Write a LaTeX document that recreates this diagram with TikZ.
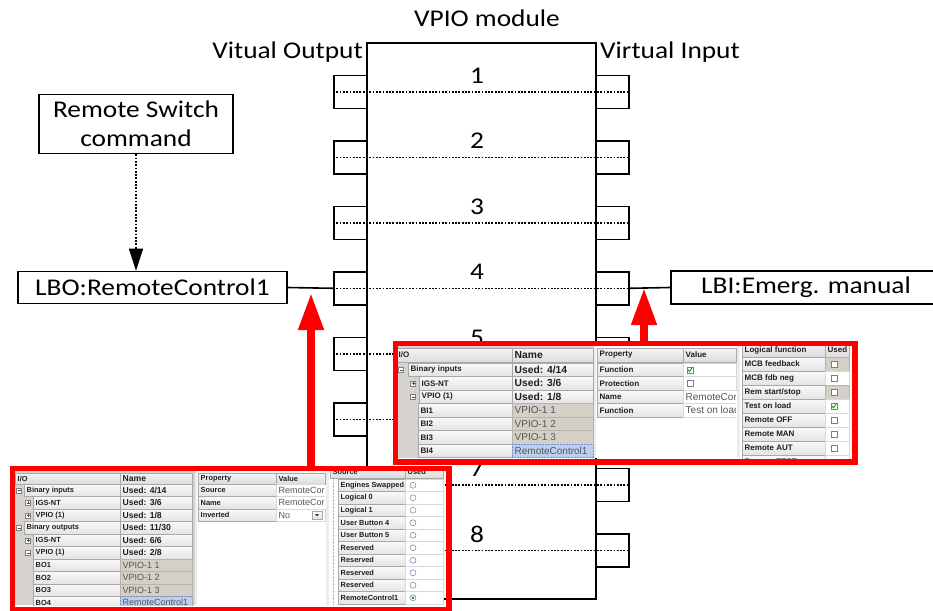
\documentclass[tikz,border=0pt]{standalone}
\usepackage{fontspec}
\usepackage{graphicx}
\setmainfont{Carlito}
\newfontfamily\ui{Liberation Sans}
\usetikzlibrary{arrows.meta}
\definecolor{panelg}{HTML}{D6D3CE}
\definecolor{cellg}{HTML}{D4D0C8}
\definecolor{celld}{HTML}{B8B4AC}
\definecolor{btnd}{HTML}{A8A8A8}
\definecolor{selc}{HTML}{BBD0F0}
\definecolor{seld}{HTML}{7B8FCF}
\definecolor{cbd}{HTML}{6F7F9F}
\definecolor{bgui}{HTML}{ECECEC}
\definecolor{txtg}{HTML}{555555}
\definecolor{txtd}{HTML}{1E1E1E}
\newcommand\wt[1]{\scalebox{1.14}[1]{#1}}
\newcommand\cl[8]{\path[#2] (#3,#4) rectangle (#5,#6); \node[#7] (#1) at ({#3+2.5},{(#4+#6)/2}) {#8};}
\newcommand\cbox[2]{\path[draw=cbd, fill=white, line width=0.5pt] ({#1-3},{#2-3}) rectangle ({#1+3},{#2+3});}
\newcommand\tick[2]{\draw[green!55!black, line width=0.8pt] ({#1-2},{#2}) -- ({#1-0.5},{#2+1.8}) -- ({#1+2.2},{#2-2});}
\newcommand\radio[2]{\path[draw=cbd, fill=white, line width=0.5pt] (#1,#2) circle[radius=3pt];}
\newcommand\radiosel[2]{\path[draw=cbd, fill=white, line width=0.5pt] (#1,#2) circle[radius=3pt]; \fill[green!55!black] (#1,#2) circle[radius=1.3pt];}
\newcommand\minico[2]{\path[draw=gray, fill=white, line width=0.4pt] ({#1-2.5},{#2-2.5}) rectangle ({#1+2.5},{#2+2.5}); \draw[black!70, line width=0.5pt] ({#1-1.5},#2) -- ({#1+1.5},#2);}
\newcommand\plusico[2]{\minico{#1}{#2}\draw[black!70, line width=0.5pt] (#1,{#2-1.5}) -- (#1,{#2+1.5});}
\begin{document}
\begin{tikzpicture}[x=1pt,y=-1pt,
  big/.style={font=\fontsize{24}{30}\selectfont, inner sep=0},
  bx/.style={draw, line width=1.6pt},
  port/.style={draw, line width=1.6pt, minimum width=33pt, minimum height=33pt, inner sep=0, anchor=north west},
  dots/.style={line width=1.4pt, dash pattern=on 1.8pt off 1.5pt},
  redframe/.style={draw=red, line width=5.5pt, inner sep=0, anchor=north west},
  redarrow/.style={draw=red, line width=7.5pt, -{Triangle[width=24pt,length=37pt]}},
  uhdr/.style={top color=white!96!black, bottom color=white!86!black, draw=btnd, line width=0.4pt},
  ubtn/.style={top color=white!98!black, bottom color=white!89!black, draw=btnd, line width=0.4pt},
  ugray/.style={fill=cellg, draw=celld, line width=0.4pt},
  uwhite/.style={fill=white, draw=white!85!black, line width=0.4pt},
  usel/.style={fill=selc, draw=seld, line width=0.5pt, densely dotted},
  tlab/.style={font=\ui\bfseries\fontsize{8}{9}\selectfont, text=txtd, inner sep=0, anchor=west},
  tusd/.style={font=\ui\bfseries\fontsize{10.3}{11}\selectfont, text=txtd, inner sep=0, anchor=west},
  tval/.style={font=\ui\fontsize{10}{11}\selectfont, text=txtg, inner sep=0, anchor=west},
  tlabs/.style={font=\ui\bfseries\fontsize{7.4}{8}\selectfont, text=txtd, inner sep=0, anchor=west},
  tusds/.style={font=\ui\bfseries\fontsize{8.6}{9}\selectfont, text=txtd, inner sep=0, anchor=west},
  tvals/.style={font=\ui\fontsize{9}{10}\selectfont, text=txtg, inner sep=0, anchor=west}]
\useasboundingbox (0,0) rectangle (933,610);
\fill[white] (0,0) rectangle (933,610);

% ---------------- main diagram ----------------
\node[big] (title) at (487,18) {\wt{VPIO module}};
\node[bx, anchor=north west, minimum width=229pt, minimum height=556pt, inner sep=0] (vpio) at (366,42) {};
\node[big, anchor=east] (vo) at (363,52) {\wt{Vitual Output}};
\node[big, anchor=west] (vi) at (600,52) {\wt{Virtual Input}};
\foreach \k in {1,...,8}{
  \pgfmathsetmacro\py{74.5+65.5*(\k-1)}
  \node[port] (pl\k) at (333,\py) {};
  \node[port] (pr\k) at (595,\py) {};
  \draw[dots] (pl\k.west) -- (pr\k.east);
  \node[big] (n\k) at (477,\py+1) {\wt{\k}};
}
\node[bx, big, minimum width=194pt, minimum height=59pt, align=center] (rs) at (136,124) {\wt{Remote Switch}\\[-1pt]\wt{command}};
\node[bx, big, minimum width=269pt, minimum height=32pt] (lbo) at (152.5,287.5) {\wt{LBO:RemoteControl1}};
\node[bx, big, minimum width=270pt, minimum height=33pt] (lbi) at (806,287.5) {\wt{LBI:Emerg. manual}};
\draw[line width=1.6pt] (lbo.east) -- (pl4.west);
\draw[line width=1.6pt] (pr4.east) -- (lbi.west);
\draw[dots, -{Triangle[width=14pt,length=22pt]}] (rs.south) -- (rs.south |- lbo.north);

% ---------------- upper screenshot ----------------
\begin{scope}
\clip (395,343) rectangle (850,458);
\fill[bgui] (395,343) rectangle (850,458);
\fill[panelg] (395,345) rectangle (594,458);
\fill[white] (596,345) rectangle (737,458);
\fill[white] (740,343) rectangle (850,458);
\cl{uh1}{uhdr}{396}{348}{512}{362}{tlab}{I/O}
\cl{uh2}{uhdr}{512}{348}{593}{362}{tusd}{Name}
\minico{401}{369.75}
\cl{ur0a}{ubtn}{408}{363}{512}{376.5}{tlab}{Binary inputs}
\cl{ur0b}{ubtn}{512}{363}{593}{376.5}{tusd}{Used: 4/14}
\plusico{413}{383.25}
\cl{ur1a}{ubtn}{419}{376.5}{512}{390}{tlab}{IGS-NT}
\cl{ur1b}{ubtn}{512}{376.5}{593}{390}{tusd}{Used: 3/6}
\minico{413}{396.75}
\cl{ur2a}{ubtn}{419}{390}{512}{403.5}{tlab}{VPIO (1)}
\cl{ur2b}{ubtn}{512}{390}{593}{403.5}{tusd}{Used: 1/8}
\cl{ur3a}{ubtn}{418}{403.5}{512}{417}{tlab}{BI1}
\cl{ur3b}{ugray}{512}{403.5}{593}{417}{tval}{VPIO-1 1}
\cl{ur4a}{ubtn}{418}{417}{512}{430.5}{tlab}{BI2}
\cl{ur4b}{ugray}{512}{417}{593}{430.5}{tval}{VPIO-1 2}
\cl{ur5a}{ubtn}{418}{430.5}{512}{444}{tlab}{BI3}
\cl{ur5b}{ugray}{512}{430.5}{593}{444}{tval}{VPIO-1 3}
\cl{ur6a}{ubtn}{418}{444}{512}{457.5}{tlab}{BI4}
\cl{ur6b}{usel}{512}{444}{593}{457.5}{tval}{RemoteControl1}
% property panel
\cl{um1}{uhdr}{597}{348}{683}{362}{tlab}{Property}
\cl{um2}{uhdr}{683}{348}{736}{362}{tlab}{Value}
\cl{um3}{ubtn}{597}{363}{683}{376.5}{tlab}{Function}
\cl{um4}{uwhite}{683}{363}{736}{376.5}{tval}{}
\cbox{690}{369.75}\tick{690}{369.75}
\cl{um5}{ubtn}{597}{376.5}{683}{390}{tlab}{Protection}
\cl{um6}{uwhite}{683}{376.5}{736}{390}{tval}{}
\cbox{690}{383.25}
\cl{um7}{ubtn}{597}{390}{683}{403.5}{tlab}{Name}
\cl{um9}{ubtn}{597}{403.5}{683}{417}{tlab}{Function}
\begin{scope}
\clip (683,389) rectangle (735.5,418);
\cl{um8}{uwhite}{683}{390}{736}{403.5}{tval}{RemoteCor}
\cl{um10}{uwhite}{683}{403.5}{736}{417}{tval}{Test on loac}
\end{scope}
% logical function panel
\cl{ul1}{uhdr}{742}{343}{825}{357}{tlab}{Logical function}
\cl{ul2}{uhdr}{825}{343}{849}{357}{tlab}{Used}
\cl{ul3}{ubtn}{742}{357}{825}{371}{tlab}{MCB feedback}
\cl{ul4}{ugray}{825}{357}{849}{371}{tlab}{}
\cbox{834}{364}
\cl{ul5}{ubtn}{742}{371}{825}{385}{tlab}{MCB fdb neg}
\cl{ul6}{uwhite}{825}{371}{849}{385}{tlab}{}
\cbox{834}{378}
\cl{ul7}{ubtn}{742}{385}{825}{399}{tlab}{Rem start/stop}
\cl{ul8}{ugray}{825}{385}{849}{399}{tlab}{}
\cbox{834}{392}
\cl{ul9}{ubtn}{742}{399}{825}{413}{tlab}{Test on load}
\cl{ul10}{uwhite}{825}{399}{849}{413}{tlab}{}
\cbox{834}{406}\tick{834}{406}
\cl{ul11}{ubtn}{742}{413}{825}{427}{tlab}{Remote OFF}
\cl{ul12}{uwhite}{825}{413}{849}{427}{tlab}{}
\cbox{834}{420}
\cl{ul13}{ubtn}{742}{427}{825}{441}{tlab}{Remote MAN}
\cl{ul14}{uwhite}{825}{427}{849}{441}{tlab}{}
\cbox{834}{434}
\cl{ul15}{ubtn}{742}{441}{825}{455}{tlab}{Remote AUT}
\cl{ul16}{uwhite}{825}{441}{849}{455}{tlab}{}
\cbox{834}{448}
\cl{ul17}{ubtn}{742}{455}{825}{469}{tlab}{Remote TEST}
\cl{ul18}{uwhite}{825}{455}{849}{469}{tlab}{}
\cbox{834}{462}
\end{scope}
\node[redframe, minimum width=459.5pt, minimum height=118.5pt] (shotU) at (392.75,340.75) {};

% ---------------- lower screenshot ----------------
\begin{scope}
\clip (12,469) rectangle (444,605);
\fill[bgui] (12,466) rectangle (444,605);
\fill[panelg] (13,470) rectangle (195,605);
\fill[white] (197,470) rectangle (326,605);
\fill[white] (329,466) rectangle (444,605);
\cl{lh1}{uhdr}{15}{473}{120}{484}{tlabs}{I/O}
\cl{lh2}{uhdr}{120}{473}{192}{484}{tusds}{Name}
\minico{19}{490.25}
\cl{lr0a}{ubtn}{24}{484}{120}{496.5}{tlabs}{Binary inputs}
\cl{lr0b}{ubtn}{120}{484}{192}{496.5}{tusds}{Used: 4/14}
\plusico{28}{502.75}
\cl{lr1a}{ubtn}{33}{496.5}{120}{509}{tlabs}{IGS-NT}
\cl{lr1b}{ubtn}{120}{496.5}{192}{509}{tusds}{Used: 3/6}
\plusico{28}{515.25}
\cl{lr2a}{ubtn}{33}{509}{120}{521.5}{tlabs}{VPIO (1)}
\cl{lr2b}{ubtn}{120}{509}{192}{521.5}{tusds}{Used: 1/8}
\minico{19}{527.75}
\cl{lr3a}{ubtn}{24}{521.5}{120}{534}{tlabs}{Binary outputs}
\cl{lr3b}{ubtn}{120}{521.5}{192}{534}{tusds}{Used: 11/30}
\plusico{28}{540.25}
\cl{lr4a}{ubtn}{33}{534}{120}{546.5}{tlabs}{IGS-NT}
\cl{lr4b}{ubtn}{120}{534}{192}{546.5}{tusds}{Used: 6/6}
\minico{28}{552.75}
\cl{lr5a}{ubtn}{33}{546.5}{120}{559}{tlabs}{VPIO (1)}
\cl{lr5b}{ubtn}{120}{546.5}{192}{559}{tusds}{Used: 2/8}
\cl{lr6a}{ubtn}{33}{559}{120}{571.5}{tlabs}{BO1}
\cl{lr6b}{ugray}{120}{559}{192}{571.5}{tvals}{VPIO-1 1}
\cl{lr7a}{ubtn}{33}{571.5}{120}{584}{tlabs}{BO2}
\cl{lr7b}{ugray}{120}{571.5}{192}{584}{tvals}{VPIO-1 2}
\cl{lr8a}{ubtn}{33}{584}{120}{596.5}{tlabs}{BO3}
\cl{lr8b}{ugray}{120}{584}{192}{596.5}{tvals}{VPIO-1 3}
\cl{lr9a}{ubtn}{33}{596.5}{120}{609}{tlabs}{BO4}
\cl{lr9b}{usel}{120}{596.5}{192}{609}{tvals}{RemoteControl1}
% property panel
\cl{lm1}{uhdr}{198}{473}{276}{484}{tlabs}{Property}
\cl{lm2}{uhdr}{276}{473}{325}{484}{tlabs}{Value}
\cl{lm3}{ubtn}{198}{484}{276}{496.5}{tlabs}{Source}
\cl{lm5}{ubtn}{198}{496.5}{276}{509}{tlabs}{Name}
\begin{scope}
\clip (276,483) rectangle (324.5,510);
\cl{lm4}{uwhite}{276}{484}{325}{496.5}{tvals}{RemoteCor}
\cl{lm6}{uwhite}{276}{496.5}{325}{509}{tvals}{RemoteCor}
\end{scope}
\cl{lm7}{ubtn}{198}{509}{276}{521.5}{tlabs}{Inverted}
\cl{lm8}{uwhite}{276}{509}{325}{521.5}{tvals}{No}
\path[ubtn] (312,511) rectangle (322,519.5);
\fill[black!75] (315,514) -- (319,514) -- (317,516.5) -- cycle;
% source panel
\cl{ls1}{uhdr}{330}{466}{405}{478}{tlabs}{Source}
\cl{ls2}{uhdr}{405}{466}{443}{478}{tlabs}{Used}
\cl{ls3}{ubtn}{338}{479}{405}{491.5}{tlabs}{Engines Swapped}
\cl{ls4}{ubtn}{338}{491.5}{405}{504}{tlabs}{Logical 0}
\cl{ls5}{ubtn}{338}{504}{405}{516.5}{tlabs}{Logical 1}
\cl{ls6}{ubtn}{338}{516.5}{405}{529}{tlabs}{User Button 4}
\cl{ls7}{ubtn}{338}{529}{405}{541.5}{tlabs}{User Button 5}
\cl{ls8}{ubtn}{338}{541.5}{405}{554}{tlabs}{Reserved}
\cl{ls9}{ubtn}{338}{554}{405}{566.5}{tlabs}{Reserved}
\cl{ls10}{ubtn}{338}{566.5}{405}{579}{tlabs}{Reserved}
\cl{ls11}{ubtn}{338}{579}{405}{591.5}{tlabs}{Reserved}
\cl{ls12}{ubtn}{338}{591.5}{405}{604}{tlabs}{RemoteControl1}
\foreach \yy in {479,491.5,...,592}{\path[uwhite] (405,\yy) rectangle (443,\yy+12.5);}
\foreach \yy in {485.25,497.75,...,587}{\radio{413}{\yy}}
\radiosel{413}{597.75}
\draw[black!30, densely dotted] (333,479) -- (333,604);
\end{scope}
\node[redframe, minimum width=436.5pt, minimum height=141.5pt] (shotL) at (9.75,465.75) {};

% ---------------- red arrows ----------------
\coordinate (tipL) at (311,293);
\coordinate (tipR) at (644,288);
\draw[redarrow] (shotL.north -| tipL) -- (tipL);
\draw[redarrow] (shotU.north -| tipR) -- (tipR);
\end{tikzpicture}
\end{document}
